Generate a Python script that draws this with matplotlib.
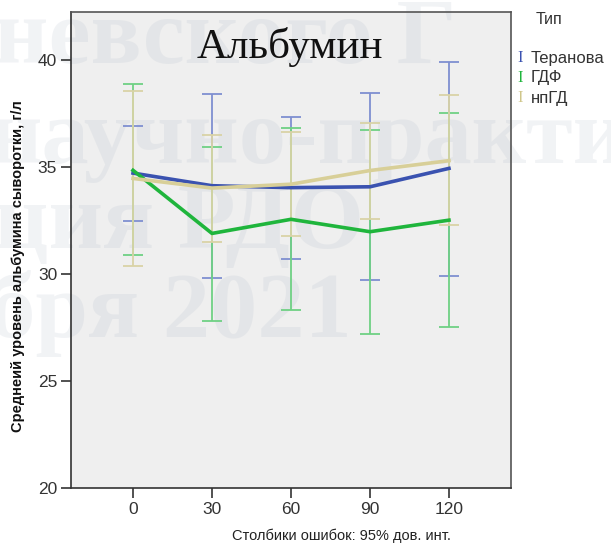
import numpy as np
import matplotlib
matplotlib.use("Agg")
import matplotlib.pyplot as plt

# data
days = [0, 30, 60, 90, 120]
day_labels = ['0', '30', '60', '90', '120']
groups = ['Теранова', 'ГДФ', 'нпГД']

ter_mean = [34.72, 34.13, 34.04, 34.08, 34.94]
ter_lo = [32.49, 29.81, 30.70, 29.73, 29.92]
ter_hi = [36.92, 38.41, 37.34, 38.46, 39.92]

gdf_mean = [34.85, 31.90, 32.56, 31.98, 32.52]
gdf_lo = [30.87, 27.82, 28.33, 27.20, 27.54]
gdf_hi = [38.88, 35.93, 36.84, 36.74, 37.51]

np_mean = [34.47, 34.02, 34.20, 34.84, 35.30]
np_lo = [30.37, 31.51, 31.76, 32.59, 32.28]
np_hi = [38.58, 36.50, 36.65, 37.04, 38.36]

line_cols = ['#3a52b0', '#1fb53c', '#d8cf98']
bar_cols = ['#7f8fd0', '#6fd184', '#d9d3a6']

plt.rcParams['font.family'] = ['Liberation Sans', 'DejaVu Sans']

fig = plt.figure(figsize=(6.11, 5.44), dpi=100)
ax = fig.add_axes([71/611, 56/544, 440/611, 476/544])
ax.set_facecolor('#efefef')

x = np.arange(len(days))
series = [(ter_mean, ter_lo, ter_hi), (gdf_mean, gdf_lo, gdf_hi), (np_mean, np_lo, np_hi)]

# faint watermark from the slide behind the chart
wm = [('невского Г', -0.01, 0.885), ('научно-практи', -0.02, 0.70),
      ('ция РДО', -0.01, 0.545), ('бря 2021', -0.02, 0.38)]
for s, wx, wy in wm:
    ax.text(wx, wy, s, transform=fig.transFigure, fontsize=68, fontweight='bold',
            family='Liberation Serif', color='#aab6c6', alpha=0.16,
            ha='left', va='baseline', zorder=0.5, clip_on=False)

for i, (m, lo, hi) in enumerate(series):
    m = np.array(m)
    err = [m - np.array(lo), np.array(hi) - m]
    ax.errorbar(x, m, yerr=err, fmt='none', ecolor=bar_cols[i], elinewidth=1.3,
                capsize=7, capthick=1.3, zorder=2)
for i, (m, lo, hi) in enumerate(series):
    ax.plot(x, m, color=line_cols[i], lw=2.6, zorder=3, solid_joinstyle='round')

ax.set_xlim(-0.785, 4.785)
ax.set_ylim(20, 42.25)
ax.set_xticks(x)
ax.set_xticklabels(day_labels)
ax.set_yticks([20, 25, 30, 35, 40])
ax.tick_params(axis='both', direction='out', length=7, width=1.2, color='#333333',
               labelsize=12.5, labelcolor='#333333', pad=3)
for sp in ax.spines.values():
    sp.set_color('#555555')
    sp.set_linewidth(1.2)
ax.spines['left'].set_color('#333333')
ax.spines['bottom'].set_color('#333333')

ax.set_ylabel('Среднеий уровень альбумина сыворотки, г/л', fontsize=10.5,
              fontweight='bold', color='#111111')
ax.yaxis.set_label_coords(-0.105, 0.466)

fig.text(290/611, 1 - 47/544, 'Альбумин', family='Liberation Serif', fontsize=31,
         ha='center', va='center', color='#111111')

fig.text(341/611, 1 - 536/544, 'Столбики ошибок: 95% дов. инт.', fontsize=10.5,
         ha='center', va='center', color='#222222')

# legend
fig.text(549/611, 1 - 20/544, 'Тип', fontsize=11.5, ha='center', va='center', color='#333333')
for i, g in enumerate(groups):
    yy = 1 - (58 + 20 * i) / 544
    fig.text(520/611, yy, 'I', fontsize=12, family='Liberation Serif',
             ha='center', va='center', color=line_cols[i] if i < 2 else '#cfc68a')
    fig.text(531/611, yy, g, fontsize=12, ha='left', va='center', color='#333333')

fig.savefig('out.png', dpi=100)
